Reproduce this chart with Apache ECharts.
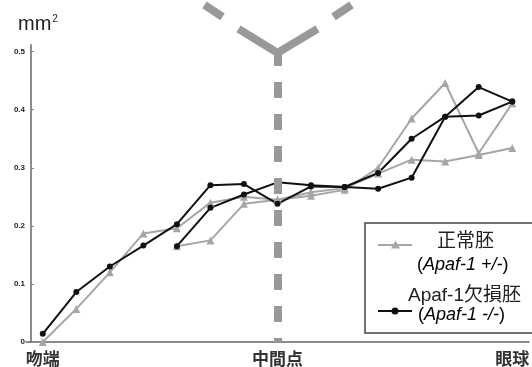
<!DOCTYPE html>
<html>
<head>
<meta charset="utf-8">
<script src="https://cdn.jsdelivr.net/npm/echarts@6/dist/echarts.min.js"></script>
<style>
html, body { margin: 0; padding: 0; background: #fff; }
#main { width: 532px; height: 367px; }
</style>
</head>
<body>
<div id="main"></div>
<script>
// positions along the head, 15 sampling points
var xTickLabels = ['吻端', '', '', '', '', '', '', '中間点', '', '', '', '', '', '', '眼球'];
var xCats = ['0', '1', '2', '3', '4', '5', '6', '7', '8', '9', '10', '11', '12', '13', '14'];

// 正常胚 (Apaf-1 +/-), two embryos
var normal1 = [0.0, 0.057, 0.120, 0.187, 0.196, 0.240, 0.250, 0.245, 0.252, 0.262, 0.300, 0.385, 0.446, 0.325, 0.411];
var normal2 = ['-', '-', '-', '-', 0.165, 0.175, 0.238, 0.245, 0.258, 0.265, 0.290, 0.314, 0.311, 0.322, 0.334];
// Apaf-1欠損胚 (Apaf-1 -/-), two embryos
var mutant1 = [0.014, 0.086, 0.130, 0.166, 0.203, 0.270, 0.272, 0.238, 0.268, 0.267, 0.264, 0.283, 0.388, 0.439, 0.414];
var mutant2 = ['-', '-', '-', '-', 0.165, 0.231, 0.254, 0.275, 0.270, 0.267, 0.291, 0.350, 0.388, 0.390, 0.414];

var midIndex = 7;
var midTop = 0.503;

var GRAY = '#a6a6a6';
var BLACK = '#111';
var FONT = "'Liberation Sans', 'Noto Sans CJK JP', sans-serif";
var JFONT = "'Noto Sans CJK JP', sans-serif";

var chart = echarts.init(document.getElementById('main'));

function lineSeries(name, data, color, symbol, size) {
  return {
    name: name,
    type: 'line',
    data: data,
    z: 3,
    symbol: symbol,
    symbolSize: size,
    lineStyle: { color: color, width: 2 },
    itemStyle: { color: color },
    connectNulls: false,
    animation: false
  };
}

var option = {
  animation: false,
  grid: { left: 26, right: -4, top: 44.7, bottom: 24.5 },
  title: {
    text: 'mm{s|2}',
    left: 13, top: 9,
    textStyle: {
      fontFamily: FONT, fontSize: 20, fontWeight: 'normal', color: '#222',
      rich: { s: { fontSize: 10, verticalAlign: 'top', padding: [0, 0, 9, 1], color: '#222' } }
    }
  },
  xAxis: {
    type: 'category',
    data: xCats,
    boundaryGap: true,
    axisLine: { lineStyle: { color: '#666', width: 1.5 } },
    axisTick: { inside: true, length: 3, lineStyle: { color: '#888' } },
    axisLabel: {
      interval: 0,
      margin: 8,
      fontFamily: JFONT, fontSize: 17, fontWeight: 'bold', color: '#333',
      formatter: function (v, i) { return xTickLabels[i]; }
    },
    splitLine: { show: false }
  },
  yAxis: {
    type: 'value',
    min: 0, max: 0.512, interval: 0.1,
    offset: -5,
    axisLine: { show: true, lineStyle: { color: '#666', width: 1.5 } },
    axisTick: { show: true, inside: true, length: 3, lineStyle: { color: '#888' } },
    axisLabel: {
      showMaxLabel: false,
      margin: 6,
      fontFamily: FONT, fontSize: 8, fontWeight: 'bold', color: '#222',
      formatter: function (v) { return v === 0 ? '0' : v.toFixed(1); }
    },
    splitLine: { show: false }
  },
  series: [
    {
      type: 'line', data: [], z: 1,
      markLine: {
        silent: true, symbol: 'none', animation: false,
        label: { show: false },
        lineStyle: { color: '#999', width: 8, type: [16, 16], cap: 'butt' },
        data: [[{ coord: [midIndex, midTop] }, { coord: [midIndex, 0] }]]
      }
    },
    lineSeries('正常胚', normal1, GRAY, 'triangle', 8),
    lineSeries('正常胚', normal2, GRAY, 'triangle', 8),
    lineSeries('Apaf-1欠損胚', mutant1, BLACK, 'circle', 6),
    lineSeries('Apaf-1欠損胚', mutant2, BLACK, 'circle', 6)
  ]
};
chart.setOption(option);

// the Y mark at the top of the mid line and the legend box
var v = chart.convertToPixel({ xAxisIndex: 0, yAxisIndex: 0 }, [midIndex, midTop]);
var armStyle = { stroke: '#999', lineWidth: 8, lineCap: 'butt' };
function arm(dx1, dy1, dx2, dy2) {
  return { type: 'line', silent: true, z: 1, shape: { x1: v[0] + dx1, y1: v[1] + dy1, x2: v[0] + dx2, y2: v[1] + dy2 }, style: armStyle };
}

var subRich = {
  n: { fontFamily: FONT, fontSize: 18, color: '#222' },
  i: { fontFamily: FONT, fontSize: 18, fontStyle: 'italic', color: '#222' }
};

var graphics = [
  arm(0, 3, -39, -21), arm(-55, -33, -73, -45),
  arm(0, 3, 40, -21), arm(56, -33, 74, -45),
  {
    type: 'group', z: 10,
    children: [
      { type: 'rect', shape: { x: 365, y: 223, width: 175, height: 110 }, style: { fill: '#fff', stroke: '#444', lineWidth: 1.5 } },
      { type: 'line', shape: { x1: 378, y1: 245, x2: 412, y2: 245 }, style: { stroke: GRAY, lineWidth: 2 } },
      { type: 'polygon', shape: { points: [[395.5, 240.5], [400, 248.5], [391, 248.5]] }, style: { fill: GRAY } },
      { type: 'text', style: { text: '正常胚', x: 437, y: 240, fontFamily: JFONT, fontSize: 19, fill: '#222', verticalAlign: 'middle' } },
      { type: 'text', style: { text: '{n|(}{i|Apaf-1 +/-}{n|)}', x: 417, y: 265, verticalAlign: 'middle', rich: subRich } },
      { type: 'text', style: { text: 'Apaf-1欠損胚', x: 408, y: 296, fontFamily: FONT, fontSize: 19, fill: '#222', verticalAlign: 'middle' } },
      { type: 'line', shape: { x1: 378, y1: 311, x2: 412, y2: 311 }, style: { stroke: BLACK, lineWidth: 2 } },
      { type: 'circle', shape: { cx: 395, cy: 311, r: 3.5 }, style: { fill: BLACK } },
      { type: 'text', style: { text: '{n|(}{i|Apaf-1 -/-}{n|)}', x: 418, y: 315, verticalAlign: 'middle', rich: subRich } }
    ]
  }
];
chart.setOption({ graphic: graphics });
</script>
</body>
</html>
